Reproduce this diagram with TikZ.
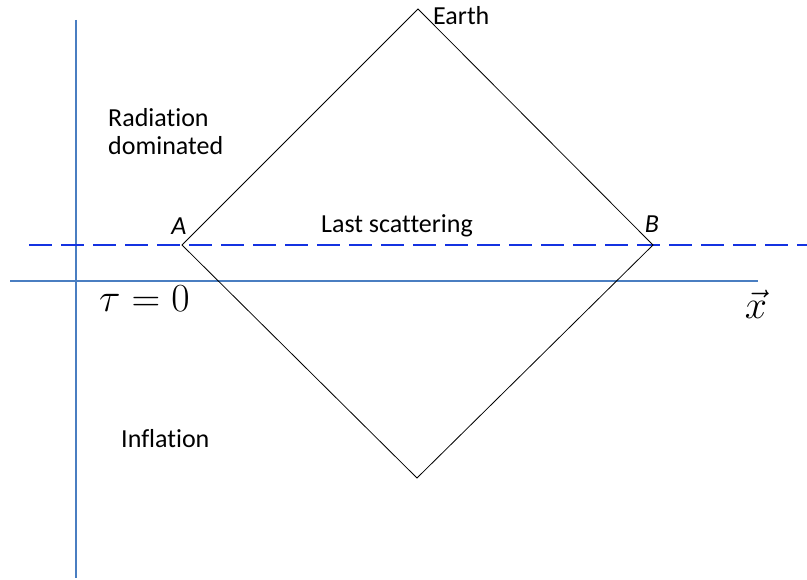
\documentclass[tikz,border=0pt]{standalone}
\usepackage{graphicx}
\usepackage{fontspec}
\usepackage{amsmath}
\setmainfont{Carlito}[Ligatures=NoCommon]
\definecolor{axisblue}{RGB}{74,126,193}
\definecolor{dashblue}{RGB}{20,50,225}
\newcommand{\bigmath}[1]{\scalebox{1.6}{\fontsize{24.88}{28}\selectfont$#1$}}
\tikzset{
  label text/.style={font=\fontsize{26}{28}\selectfont, inner sep=0pt, align=left},
  big math/.style={inner sep=0pt},
}
\begin{document}
\begin{tikzpicture}[x=1pt,y=-1pt]
\useasboundingbox (0,0) rectangle (807,580);
% corners of the light cone
\coordinate (earth) at (418,9);
\coordinate (ptA) at (182,245);
\coordinate (ptB) at (653,245);
\coordinate (past) at (417,478);
% axes
\coordinate (tauTop) at (76,20);
\coordinate (tauBot) at (76,578);
\coordinate (xLeft) at (10,281);
\coordinate (xRight) at (758,281);
\coordinate (lsLeft) at (29,245);
\coordinate (lsRight) at (807,245);
\path[draw=axisblue,line width=2pt] (tauTop) -- (tauBot);
\path[draw=axisblue,line width=2pt] (xLeft) -- (xRight);
\path[draw=dashblue,line width=2.5pt,dash pattern=on 23pt off 9pt] (lsLeft) -- (lsRight);
% the diamond
\path[draw=black,line width=0.8pt] (earth) -- (ptB) -- (past) -- (ptA) -- cycle;
% labels
\node[label text,anchor=base west] (earthlbl) at (433,25) {Earth};
\node[label text,anchor=base] (albl) at (179,235) {\textit{A}};
\node[label text,anchor=base] (blbl) at (652,233) {\textit{B}};
\node[label text,anchor=base] (lastsc) at (397,233) {Last scattering};
\node[label text,anchor=base west] (raddom) at (108,155) {Radiation\\dominated};
\node[label text,anchor=base west] (infl) at (121,448) {Inflation};
\node[big math,anchor=base west] (tauzero) at (99,312) {\bigmath{\tau=0}};
\node[big math,anchor=base] (xvec) at (756,319) {\bigmath{\vec{x}}};
\end{tikzpicture}
\end{document}
